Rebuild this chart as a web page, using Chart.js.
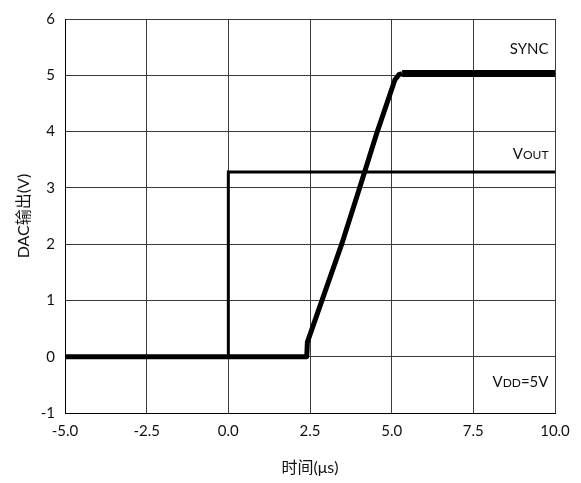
<!DOCTYPE html>
<html>
<head>
<meta charset="utf-8">
<script src="https://cdn.jsdelivr.net/npm/chart.js@4/dist/chart.umd.min.js"></script>
<style>
  html, body { margin: 0; padding: 0; background: #fff; }
  #wrap { width: 581px; height: 483px; position: relative; }
</style>
</head>
<body>
<div id="wrap"><canvas id="c"></canvas></div>
<script>
// Time axis (µs) and voltage values for each trace
const voutTime   = [-5, 0, 0, 10];
const voutVolts  = [0, 0, 3.28, 3.28];

const syncRampTime  = [-5, 2.40, 2.42, 3.47, 4.02, 4.56, 5.10, 5.22, 5.32];
const syncRampVolts = [0, 0, 0.26, 2.0, 3.0, 4.0, 4.92, 5.01, 5.03];

const syncHighTime  = [5.32, 10];
const syncHighVolts = [5.03, 5.03];

const xTicks = [-5, -2.5, 0, 2.5, 5, 7.5, 10];
const yTicks = [-1, 0, 1, 2, 3, 4, 5, 6];

const toPoints = (xs, ys) => xs.map((x, i) => ({ x, y: ys[i] }));

const FONT = "Lato, 'Noto Sans CJK SC', sans-serif";

// Draws a label where trailing letters are set as small capitals
function drawSmallCaps(ctx, parts, xRight, yMid) {
  let total = 0;
  parts.forEach(p => { ctx.font = p.size + 'px ' + FONT; p.w = ctx.measureText(p.t).width; total += p.w; });
  let x = xRight - total;
  ctx.textBaseline = 'alphabetic';
  ctx.textAlign = 'left';
  parts.forEach(p => {
    ctx.font = p.size + 'px ' + FONT;
    ctx.fillText(p.t, x, yMid + 5);
    x += p.w;
  });
}

const labelPlugin = {
  id: 'traceLabels',
  afterDatasetsDraw(chart) {
    const ctx = chart.ctx;
    const xs = chart.scales.x, ys = chart.scales.y;
    const xr = xs.getPixelForValue(9.8);
    ctx.save();
    ctx.fillStyle = '#111';
    drawSmallCaps(ctx, [{ t: 'SYNC', size: 15 }], xr, ys.getPixelForValue(5.47));
    drawSmallCaps(ctx, [{ t: 'V', size: 15 }, { t: 'OUT', size: 12 }], xr, ys.getPixelForValue(3.6));
    drawSmallCaps(ctx, [{ t: 'V', size: 15 }, { t: 'DD', size: 12 }, { t: '=5V', size: 15 }], xr, ys.getPixelForValue(-0.45));
    ctx.restore();
  }
};

new Chart(document.getElementById('c'), {
  type: 'scatter',
  data: {
    datasets: [
      { label: 'VOUT', data: toPoints(voutTime, voutVolts), showLine: true, borderColor: '#000', borderWidth: 3, pointRadius: 0, tension: 0 },
      { label: 'SYNC', data: toPoints(syncRampTime, syncRampVolts), showLine: true, borderColor: '#000', borderWidth: 5, pointRadius: 0, tension: 0, borderJoinStyle: 'round' },
      { label: 'SYNC high', data: toPoints(syncHighTime, syncHighVolts), showLine: true, borderColor: '#000', borderWidth: 7, pointRadius: 0, tension: 0 }
    ]
  },
  options: {
    responsive: true,
    maintainAspectRatio: false,
    animation: false,
    devicePixelRatio: 1,
    layout: { padding: { left: 0, right: 26, top: 17, bottom: 6 } },
    plugins: { legend: { display: false }, tooltip: { enabled: false } },
    scales: {
      x: {
        type: 'linear',
        min: -5, max: 10,
        afterBuildTicks: s => { s.ticks = xTicks.map(v => ({ value: v })); },
        afterFit: s => { s.height = 64; },
        grid: { color: '#3a3a3a', lineWidth: 1, drawTicks: false },
        border: { color: '#000', width: 1 },
        ticks: { color: '#111', font: { family: FONT, size: 15 }, padding: 9, maxRotation: 0, callback: v => v.toFixed(1) },
        title: { display: true, text: '时间(μs)', color: '#111', font: { family: FONT, size: 16 }, padding: { top: 12, bottom: 0 } }
      },
      y: {
        type: 'linear',
        min: -1, max: 6,
        afterBuildTicks: s => { s.ticks = yTicks.map(v => ({ value: v })); },
        afterFit: s => { s.width = 65; },
        grid: { color: '#3a3a3a', lineWidth: 1, drawTicks: false },
        border: { color: '#000', width: 1 },
        ticks: { color: '#111', font: { family: FONT, size: 15 }, padding: 10 },
        title: { display: true, text: 'DAC输出(V)', color: '#111', font: { family: FONT, size: 16 }, padding: { top: 14, bottom: 0 } }
      }
    }
  },
  plugins: [labelPlugin]
});
</script>
</body>
</html>
